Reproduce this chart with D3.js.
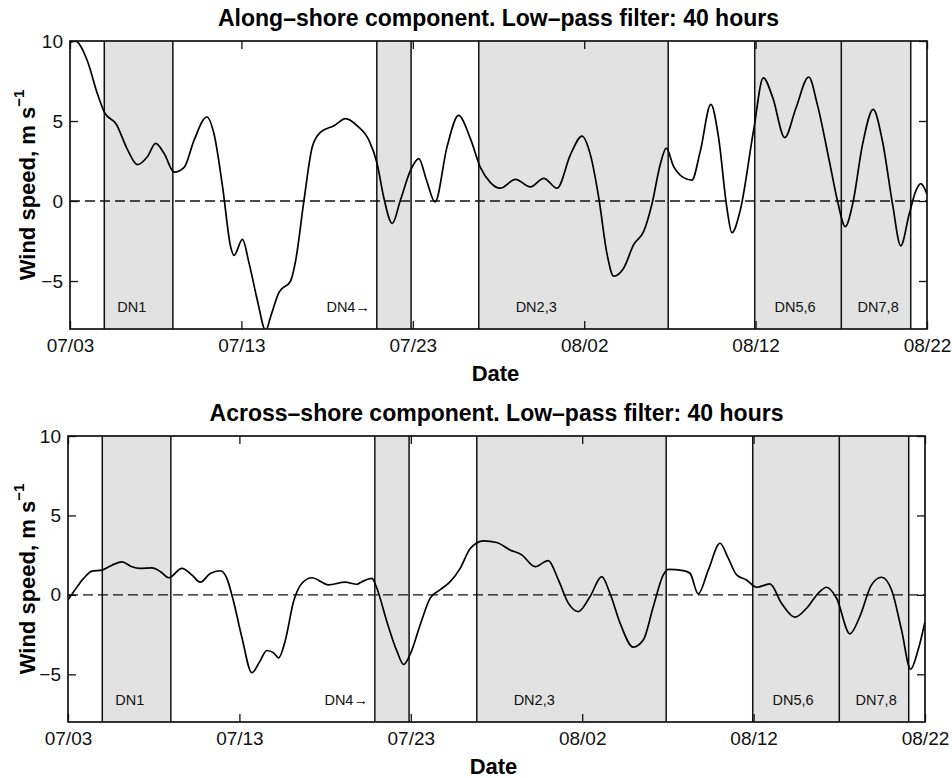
<!DOCTYPE html>
<html>
<head>
<meta charset="utf-8">
<script src="https://cdn.jsdelivr.net/npm/d3@7"></script>
<style>
  body { margin: 0; background: #fff; }
  svg { display: block; font-family: "Liberation Sans", Arial, Helvetica, sans-serif; }
</style>
</head>
<body>
<svg id="chart" width="952" height="778"></svg>
<script>
// Days since 07/03 and wind speed (m/s)
const alongDays = [0, 0.3, 1.0, 1.6, 2.0, 2.7, 3.36, 3.94, 4.5, 5.0, 5.5, 6.08, 6.66, 7.24, 7.98, 8.4, 8.9, 9.38, 9.57, 10.06, 10.45, 10.93, 11.42, 11.7, 12.2, 12.87, 13.17, 13.65, 14.14, 14.62, 15.4, 16.08, 16.76, 17.44, 17.92, 18.3, 18.8, 19.28, 19.86, 20.35, 20.8, 21.3, 22.0, 22.67, 23.36, 23.95, 24.53, 25.1, 25.99, 26.86, 27.64, 28.42, 29.2, 29.87, 30.36, 30.85, 31.33, 31.72, 32.3, 32.9, 33.47, 33.95, 34.44, 34.79, 35.2, 35.8, 36.28, 36.77, 37.39, 37.84, 38.32, 38.62, 39.1, 39.88, 40.45, 41.0, 41.7, 42.35, 43.1, 43.6, 44.3, 44.78, 45.23, 45.66, 46.24, 46.86, 47.4, 47.99, 48.47, 48.96, 49.35, 49.64, 50.0];
const alongSpeed = [9.9, 10.0, 8.8, 6.7, 5.56, 4.8, 3.2, 2.27, 2.75, 3.6, 2.95, 1.8, 2.1, 3.8, 5.25, 4.2, 0.9, -2.9, -3.4, -2.4, -3.9, -6.2, -8.1, -7.25, -5.7, -5.0, -3.7, 0.04, 3.4, 4.3, 4.7, 5.15, 4.7, 3.8, 2.33, 0.25, -1.4, 0.06, 1.9, 2.65, 1.3, -0.06, 3.4, 5.35, 3.9, 2.08, 1.15, 0.8, 1.35, 0.88, 1.42, 0.8, 2.9, 4.06, 2.9, 0.2, -3.3, -4.7, -4.2, -2.7, -1.9, -0.2, 2.3, 3.3, 2.2, 1.46, 1.3, 3.1, 6.04, 3.96, -0.4, -1.98, -0.6, 4.4, 7.7, 6.46, 3.96, 5.8, 7.75, 6.04, 2.5, 0.0, -1.6, -0.2, 3.54, 5.73, 3.75, -0.2, -2.8, -0.83, 0.63, 1.08, 0.42];

const acrossDays = [0, 0.33, 0.91, 1.4, 1.98, 2.57, 3.15, 3.73, 4.2, 4.9, 5.4, 5.87, 6.65, 7.23, 7.72, 8.3, 8.88, 9.27, 9.66, 10.15, 10.73, 11.2, 11.6, 12.0, 12.29, 12.67, 13.16, 13.65, 14.23, 15.2, 16.17, 16.85, 17.15, 17.73, 18.02, 18.6, 19.19, 19.58, 19.96, 20.55, 21.13, 21.7, 22.3, 22.88, 23.46, 24.24, 25.01, 25.79, 26.47, 27.25, 28.02, 28.61, 29.19, 29.77, 30.46, 31.14, 31.62, 32.21, 32.98, 33.57, 34.15, 34.73, 35.02, 35.9, 36.29, 36.77, 37.36, 38.04, 38.52, 39.01, 39.59, 40.17, 40.95, 41.63, 42.41, 43.09, 43.77, 44.26, 44.84, 45.62, 46.2, 46.88, 47.47, 48.05, 48.63, 49.16, 49.6, 50.0];
const acrossSpeed = [-0.3, 0.2, 1.04, 1.5, 1.56, 1.87, 2.08, 1.77, 1.67, 1.7, 1.46, 1.08, 1.67, 1.25, 0.8, 1.35, 1.52, 1.04, -0.42, -2.7, -4.9, -4.17, -3.5, -3.65, -3.96, -2.9, -0.42, 0.73, 1.08, 0.63, 0.8, 0.67, 0.83, 1.04, 0.42, -1.67, -3.54, -4.38, -3.75, -1.88, -0.2, 0.31, 0.83, 1.67, 2.9, 3.4, 3.3, 2.83, 2.52, 1.78, 2.16, 0.94, -0.52, -1.05, -0.1, 1.15, 0.1, -1.78, -3.29, -2.83, -0.73, 1.26, 1.61, 1.53, 1.36, 0.06, 1.57, 3.25, 2.31, 1.26, 0.94, 0.48, 0.69, -0.52, -1.4, -0.84, 0.1, 0.48, -0.21, -2.45, -1.36, 0.63, 1.11, 0.31, -2.2, -4.68, -3.46, -1.68];

// Shaded periods (days since 07/03) and their labels
const bandStart = [2.0, 17.9, 23.85, 39.95, 45.0];
const bandEnd = [6.0, 19.9, 34.9, 45.0, 49.05];
const bandLabels = ["DN1", "DN4\u2192", "DN2,3", "DN5,6", "DN7,8"];
const labelDays = [3.6, 17.5, 27.2, 42.3, 47.15];
const labelAnchor = ["middle", "end", "middle", "middle", "middle"];

// Axes
const xTickDays = [0, 10, 20, 30, 40, 50];
const xTickLabels = ["07/03", "07/13", "07/23", "08/02", "08/12", "08/22"];
const yTicks = [10, 5, 0, -5];
const yDomain = [-8, 10];

const panels = [
  { title: "Along\u2013shore component. Low\u2013pass filter: 40 hours", days: alongDays, speed: alongSpeed,
    left: 70, right: 927, top: 41, bottom: 329 },
  { title: "Across\u2013shore component. Low\u2013pass filter: 40 hours", days: acrossDays, speed: acrossSpeed,
    left: 68, right: 925, top: 436, bottom: 722 }
];

const svg = d3.select("#chart");
const TICK = 8;

panels.forEach((p, pi) => {
  const x = d3.scaleLinear().domain([0, 50]).range([p.left, p.right]);
  const y = d3.scaleLinear().domain(yDomain).range([p.bottom, p.top]);
  const g = svg.append("g");

  const clipId = "clip-" + pi;
  g.append("clipPath").attr("id", clipId)
    .append("rect")
    .attr("x", p.left).attr("y", p.top)
    .attr("width", p.right - p.left).attr("height", p.bottom - p.top);

  // grey bands with black edges
  const bands = bandStart.map((s, i) => ({ s, e: bandEnd[i] }));
  g.selectAll("rect.band").data(bands).enter().append("rect")
    .attr("class", "band")
    .attr("x", (d) => x(d.s)).attr("y", p.top)
    .attr("width", (d) => x(d.e) - x(d.s)).attr("height", p.bottom - p.top)
    .attr("fill", "#e2e2e2");
  const edges = Array.from(new Set(bandStart.concat(bandEnd)));
  g.selectAll("line.edge").data(edges).enter().append("line")
    .attr("class", "edge")
    .attr("x1", (d) => x(d)).attr("x2", (d) => x(d))
    .attr("y1", p.top).attr("y2", p.bottom)
    .attr("stroke", "#111").attr("stroke-width", 1.5);

  // band labels
  g.selectAll("text.dn").data(bandLabels).enter().append("text")
    .attr("class", "dn")
    .attr("x", (d, i) => x(labelDays[i]))
    .attr("y", p.bottom - 22)
    .attr("text-anchor", (d, i) => labelAnchor[i])
    .attr("dominant-baseline", "central")
    .attr("font-size", 14.5)
    .attr("fill", "#111")
    .text((d) => d);

  // zero line
  g.append("line")
    .attr("x1", p.left).attr("x2", p.right)
    .attr("y1", y(0)).attr("y2", y(0))
    .attr("stroke", "#111").attr("stroke-width", 1.4)
    .attr("stroke-dasharray", "10,5");

  // the series
  const line = d3.line()
    .x((d) => x(d[0]))
    .y((d) => y(d[1]))
    .curve(d3.curveMonotoneX);
  g.append("path")
    .datum(p.days.map((d, i) => [d, p.speed[i]]))
    .attr("clip-path", "url(#" + clipId + ")")
    .attr("fill", "none")
    .attr("stroke", "#000")
    .attr("stroke-width", 1.7)
    .attr("d", line);

  // axes: inward ticks on all four sides
  const fmtX = (d) => xTickLabels[xTickDays.indexOf(d)];
  const fmtY = (d) => (d < 0 ? "\u2212" + Math.abs(d) : d);
  g.append("g").attr("transform", `translate(0,${p.bottom})`)
    .call(d3.axisBottom(x).tickValues(xTickDays).tickFormat(fmtX).tickSizeInner(-TICK).tickSizeOuter(0).tickPadding(10));
  g.append("g").attr("transform", `translate(0,${p.top})`)
    .call(d3.axisTop(x).tickValues(xTickDays).tickFormat("").tickSizeInner(-TICK).tickSizeOuter(0));
  g.append("g").attr("transform", `translate(${p.left},0)`)
    .call(d3.axisLeft(y).tickValues(yTicks).tickFormat(fmtY).tickSizeInner(-TICK).tickSizeOuter(0).tickPadding(7));
  g.append("g").attr("transform", `translate(${p.right},0)`)
    .call(d3.axisRight(y).tickValues(yTicks).tickFormat("").tickSizeInner(-TICK).tickSizeOuter(0));
  g.selectAll(".domain").remove();
  g.selectAll(".tick line").attr("stroke", "#111").attr("stroke-width", 1.3);
  g.selectAll(".tick text").attr("font-size", 19).attr("fill", "#111")
    .attr("font-family", "'Liberation Sans', Arial, sans-serif");

  // frame
  g.append("rect")
    .attr("x", p.left).attr("y", p.top)
    .attr("width", p.right - p.left).attr("height", p.bottom - p.top)
    .attr("fill", "none").attr("stroke", "#111").attr("stroke-width", 1.7);

  // title
  g.append("text")
    .attr("x", (p.left + p.right) / 2).attr("y", p.top - 23)
    .attr("text-anchor", "middle").attr("dominant-baseline", "central")
    .attr("font-size", 23).attr("font-weight", "bold")
    .text(p.title);

  // x label
  g.append("text")
    .attr("x", (p.left + p.right) / 2 - 3).attr("y", p.bottom + 44)
    .attr("text-anchor", "middle").attr("dominant-baseline", "central")
    .attr("font-size", 22).attr("font-weight", "bold")
    .text("Date");

  // y label
  const yl = g.append("text")
    .attr("transform", `translate(27,${(p.top + p.bottom) / 2}) rotate(-90)`)
    .attr("text-anchor", "middle").attr("dominant-baseline", "central")
    .attr("font-size", 22).attr("font-weight", "bold");
  yl.append("tspan").text("Wind speed, m s");
  yl.append("tspan").attr("dy", -9).attr("font-size", 15).text("\u22121");
});
</script>
</body>
</html>
